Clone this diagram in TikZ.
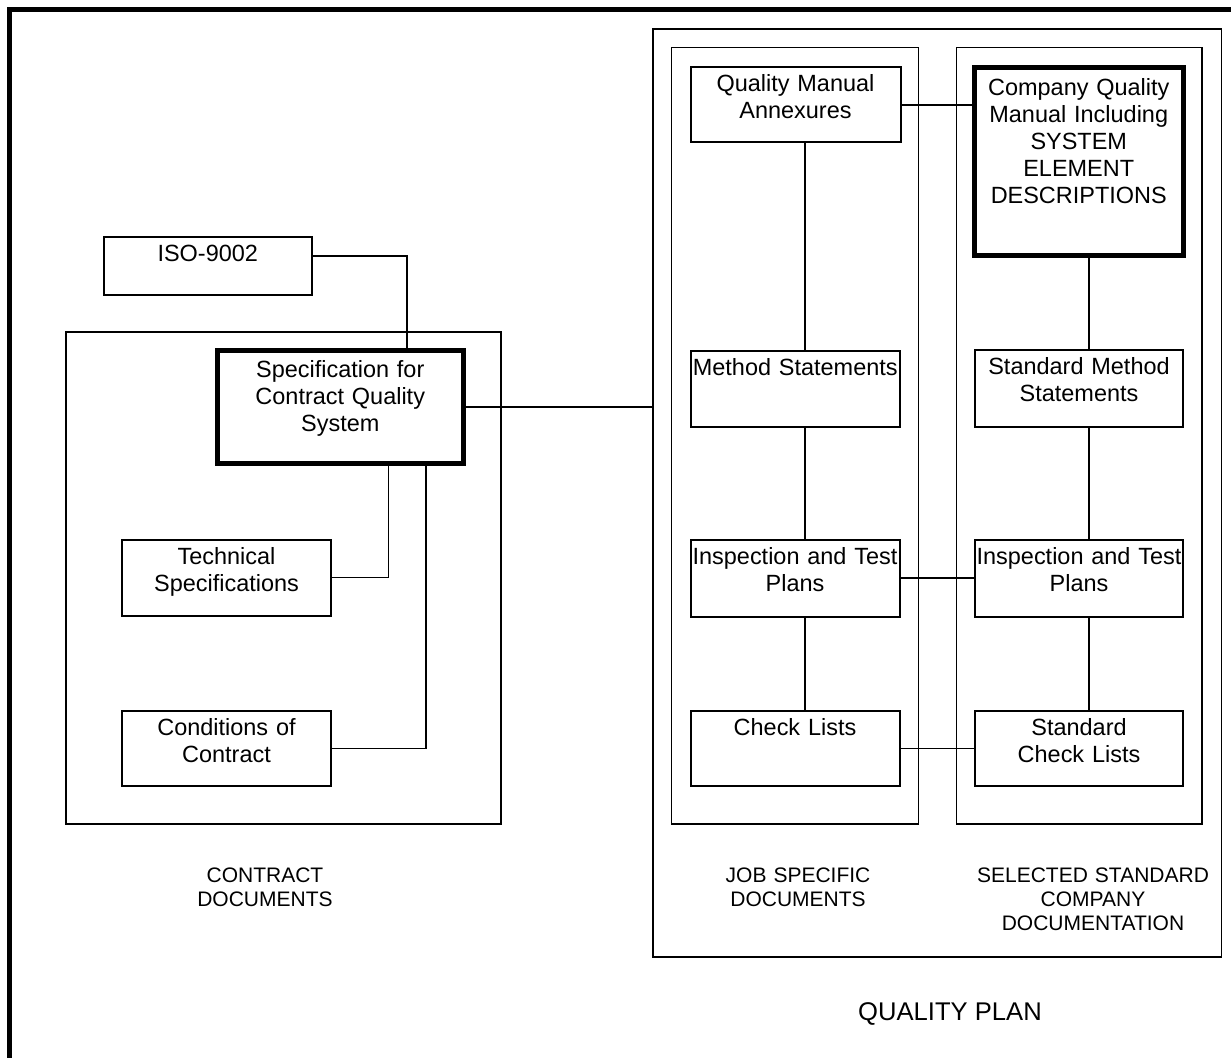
\documentclass[tikz,border=0pt]{standalone}
\usepackage{fontspec}
\setmainfont{Liberation Sans}
\tikzset{
  box/.style={draw, line width=1.5pt, inner sep=0pt, outer sep=0pt},
  thickbox/.style={draw, line width=3.75pt, inner sep=0pt, outer sep=0pt},
  container/.style={draw, line width=1pt, inner sep=0pt, outer sep=0pt},
  conn/.style={line width=1pt},
  btxt/.style={inner sep=0pt, align=center, text width=200pt, anchor=base,
    font=\fontsize{17.6pt}{20.25pt}\selectfont},
  ltxt/.style={inner sep=0pt, align=center, text width=200pt, anchor=base,
    font=\fontsize{15.75pt}{18pt}\selectfont},
}
% name, style, x1, y1, x2, y2 (pixel coordinates)
\newcommand\mybox[6]{%
  \node[#2, minimum width={(#5-#3)*0.75pt}, minimum height={(#6-#4)*0.75pt}]
    (#1) at ({(#3+#5)/2},{(#4+#6)/2}) {};}
% box name, baseline offset from top, text
\newcommand\boxtext[3]{%
  \node[btxt] (#1-t) at ([yshift={-#2*0.75pt}]#1.north) {#3};}
\begin{document}
\begin{tikzpicture}[x=0.75pt, y=-0.75pt]
\useasboundingbox (0,0) rectangle (1231,1057);
% outer frame (right and bottom sides fall outside the picture)
\draw[line width=3.75pt] (9.5,9.5) rectangle (1260,1100);

% containers
\mybox{contract}{container}{66}{332}{501}{824}
\mybox{qp}{container}{653}{29}{1221.5}{957}
\mybox{job}{container}{671.5}{47.5}{918.5}{824}
\mybox{std}{container}{956.5}{47.5}{1202}{824}

% left side boxes
\mybox{iso}{box}{103.5}{237}{312}{294.5}
\mybox{spec}{thickbox}{217}{350}{463.5}{463.5}
\mybox{tech}{box}{122}{540}{331}{616}
\mybox{cond}{box}{122}{711}{331}{786}

% job specific column
\mybox{qma}{box}{690.5}{66.5}{900.5}{142}
\mybox{meth}{box}{690.5}{350.5}{900}{427}
\mybox{itpj}{box}{690.5}{540}{899.5}{616.5}
\mybox{chkj}{box}{690.5}{711}{899.5}{786}

% standard column
\mybox{cqm}{thickbox}{974.5}{67.5}{1183}{255.5}
\mybox{sms}{box}{975}{350}{1183}{426.5}
\mybox{itps}{box}{975}{540}{1183}{616.5}
\mybox{chks}{box}{975}{711}{1183}{786}

% texts in boxes
\boxtext{iso}{24.5}{ISO-9002}
\boxtext{spec}{27.5}{Specification for\\Contract Quality\\System}
\boxtext{tech}{24.5}{Technical\\Specifications}
\boxtext{cond}{24.5}{Conditions of\\Contract}
\boxtext{qma}{24.5}{Quality Manual\\Annexures}
\boxtext{meth}{24.5}{Method Statements}
\boxtext{itpj}{24.5}{Inspection and Test\\Plans}
\boxtext{chkj}{24.5}{Check Lists}
\boxtext{cqm}{27.5}{Company Quality\\Manual Including\\SYSTEM\\ELEMENT\\DESCRIPTIONS}
\boxtext{sms}{24.5}{Standard Method\\Statements}
\boxtext{itps}{24.5}{Inspection and Test\\Plans}
\boxtext{chks}{24.5}{Standard\\Check Lists}

% connectors
\coordinate (c1) at (407,256);
\draw[conn] (iso.east |- c1) -- (c1) -- (c1 |- spec.north);
\coordinate (c2) at (0,407);
\draw[conn] (spec.east |- c2) -- (qp.west |- c2);
\coordinate (c3) at (388.3,577.7);
\draw[conn] (c3 |- spec.south) -- (c3) -- (tech.east |- c3);
\coordinate (c4) at (426,748.5);
\draw[conn] (c4 |- spec.south) -- (c4) -- (cond.east |- c4);
\coordinate (c5) at (0,105);
\draw[conn] (qma.east |- c5) -- (cqm.west |- c5);
\coordinate (c6) at (805,0);
\draw[conn] (c6 |- qma.south) -- (c6 |- meth.north);
\draw[conn] (c6 |- meth.south) -- (c6 |- itpj.north);
\draw[conn] (c6 |- itpj.south) -- (c6 |- chkj.north);
\coordinate (c7) at (1089,0);
\draw[conn] (c7 |- cqm.south) -- (c7 |- sms.north);
\draw[conn] (c7 |- sms.south) -- (c7 |- itps.north);
\draw[conn] (c7 |- itps.south) -- (c7 |- chks.north);
\coordinate (c8) at (0,578);
\draw[conn] (itpj.east |- c8) -- (itps.west |- c8);
\coordinate (c9) at (0,748.5);
\draw[conn] (chkj.east |- c9) -- (chks.west |- c9);

% group labels
\node[ltxt] (lcontract) at (265,882) {CONTRACT\\DOCUMENTS};
\node[ltxt] (ljob) at (798,882) {JOB SPECIFIC\\DOCUMENTS};
\node[ltxt] (lstd) at (1093,882) {SELECTED STANDARD\\COMPANY\\DOCUMENTATION};
\node[inner sep=0pt, anchor=base, font=\fontsize{19.2pt}{22pt}\selectfont] (lqp) at (950,1020) {QUALITY PLAN};
\end{tikzpicture}
\end{document}
